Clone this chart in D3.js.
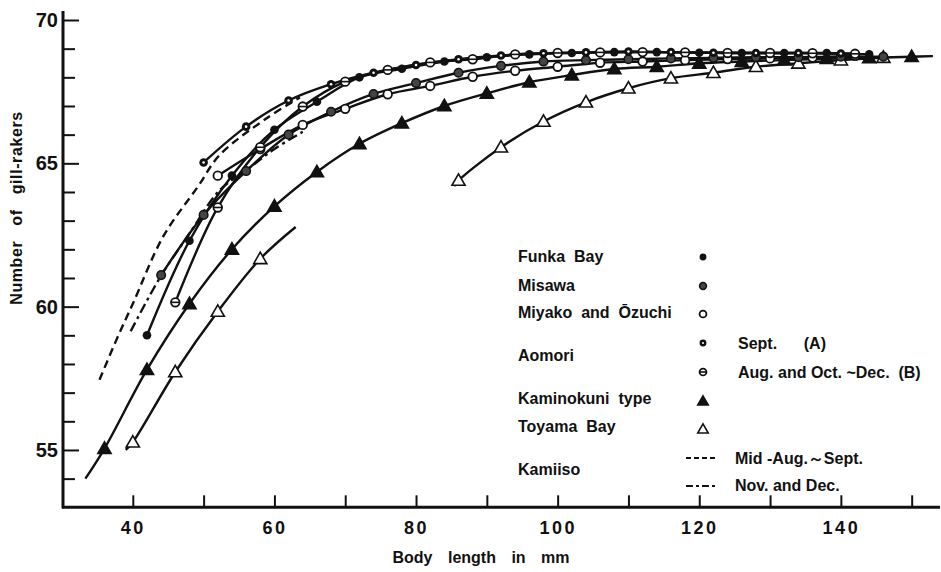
<!DOCTYPE html>
<html><head><meta charset="utf-8">
<script src="https://cdn.jsdelivr.net/npm/d3@7"></script>
<style>body{margin:0;background:#fff}text{font-family:"Liberation Sans",Arial,sans-serif;font-weight:bold;fill:#111}</style>
</head><body>
<svg id="c" width="941" height="572"></svg>
<script>
// ---- data (body length mm, number of gill-rakers) ----
const funkaBay = [[42,59.0],[48,62.3],[54,64.57],[60,66.17],[66,67.15],[72,68.0],[78,68.3],[84,68.55],[90,68.7],[96,68.8],[102,68.85],[108,68.88],[114,68.88],[120,68.86],[126,68.85],[132,68.85],[138,68.85],[144,68.8]];
const misawa = [[44,61.1],[50,63.2],[56,64.73],[62,66.0],[68,66.8],[74,67.42],[80,67.8],[86,68.16],[92,68.4],[98,68.55],[104,68.6],[110,68.63],[116,68.66],[122,68.68],[128,68.7],[134,68.7],[140,68.72],[146,68.72]];
const miyako = [[52,64.57],[58,65.5],[64,66.34],[70,66.9],[76,67.41],[82,67.7],[88,68.02],[94,68.23],[100,68.37],[106,68.51],[112,68.55],[118,68.6],[124,68.64],[130,68.66],[136,68.69],[142,68.75]];
const aomoriA = [[50,65.03],[56,66.28],[62,67.19],[68,67.76],[74,68.16],[80,68.43],[86,68.63],[92,68.76],[98,68.84],[104,68.87],[110,68.9],[116,68.88],[122,68.86],[128,68.85],[134,68.85],[140,68.83]];
const aomoriB = [[46,60.15],[52,63.46],[58,65.56],[64,66.98],[70,67.85],[76,68.26],[82,68.52],[88,68.63],[94,68.8],[100,68.85],[106,68.87],[112,68.88],[118,68.87],[124,68.85],[130,68.85],[136,68.84],[142,68.82]];
const kaminokuni = [[36,55.05],[42,57.8],[48,60.1],[54,62.0],[60,63.5],[66,64.7],[72,65.68],[78,66.4],[84,67.0],[90,67.44],[96,67.83],[102,68.08],[108,68.29],[114,68.37],[120,68.49],[126,68.55],[132,68.6],[138,68.65],[144,68.68],[150,68.72]];
const kaminokuniEnds = [[33.3,54.0],[153,68.74]];
const toyamaEarly = [[40,55.27],[46,57.72],[52,59.83],[58,61.67]];
const toyamaEarlyEnds = [[39,55.0],[63,62.78]];
const toyamaLate = [[86,64.4],[92,65.56],[98,66.46],[104,67.13],[110,67.62],[116,67.97],[122,68.16],[128,68.37],[134,68.49],[140,68.6],[146,68.69]];
const toyamaLateEnds = [[85.4,64.2]];
const kamiisoSummer = [[35.3,57.45],[37.7,58.85],[40,60.1],[44.3,62.45],[49.2,64.19],[52.3,65.3],[58.9,66.57],[63.6,67.3]];
const kamiisoWinter = [[39.7,59.14],[43.8,61.0],[48,62.55],[52.3,64.07],[56.1,64.77],[60,65.5],[64,66.1]];
const xTickLabels = [40,60,80,100,120,140];
const xTicksAll = [40,50,60,70,80,90,100,110,120,130,140,150];
const yTickLabels = [55,60,65,70];
const yTicksAll = [54,55,56,57,58,59,60,61,62,63,64,65,66,67,68,69,70];
const legendNames = ["Funka  Bay","Misawa","Miyako  and  Ōzuchi","Aomori","Kaminokuni  type","Toyama  Bay","Kamiiso"];
const aomoriSub = ["Sept.      (A)","Aug. and Oct. ~Dec.  (B)"];
const kamiisoSub = ["Mid -Aug.～Sept.","Nov. and Dec."];

// ---- scales ----
const svg = d3.select('#c');
const x = d3.scaleLinear().domain([30,154]).range([62,940]);
const y = d3.scaleLinear().domain([53,70]).range([507.3,20]);
const ink = '#111';

// axes
const gx = svg.append('g').attr('transform',`translate(0,${y(53)})`);
gx.call(d3.axisBottom(x).tickValues(xTicksAll).tickSize(-12).tickPadding(14)
  .tickFormat(d => xTickLabels.includes(d) ? d : ''));
gx.select('.domain').remove();
gx.append('line').attr('x1',x(30)).attr('x2',940).attr('stroke',ink).attr('stroke-width',3);
gx.selectAll('.tick line').attr('stroke',ink).attr('stroke-width',2);
gx.selectAll('.tick text').attr('font-size',18).attr('letter-spacing',2.5).style('fill',ink);

const gy = svg.append('g').attr('transform',`translate(${x(30)+1},0)`);
gy.call(d3.axisLeft(y).tickValues(yTicksAll).tickSize(-12).tickPadding(5)
  .tickFormat(d => yTickLabels.includes(d) ? d : ''));
gy.select('.domain').remove();
gy.append('line').attr('y1',11).attr('y2',y(53)+1).attr('stroke',ink).attr('stroke-width',3);
gy.selectAll('.tick line').attr('stroke',ink).attr('stroke-width',2)
  .attr('x2', d => yTickLabels.includes(d) ? 16 : 12);
gy.selectAll('.tick text').attr('font-size',20).style('fill',ink);

svg.append('text').attr('x',481).attr('y',563).attr('text-anchor','middle')
  .attr('font-size',16).attr('word-spacing',11).text('Body length in mm');
svg.append('text').attr('transform','translate(22,208) rotate(-90)').attr('text-anchor','middle')
  .attr('font-size',16).attr('word-spacing',10).attr('letter-spacing',0.6).text('Number of gill-rakers');

// lines
const line = d3.line().x(d=>x(d[0])).y(d=>y(d[1])).curve(d3.curveCatmullRom.alpha(0.5));
const sortX = a => a.slice().sort((p,q)=>p[0]-q[0]);
const lines = [
  {d: sortX(kaminokuni.concat(kaminokuniEnds)), dash:null},
  {d: sortX(toyamaEarly.concat(toyamaEarlyEnds)), dash:null},
  {d: sortX(toyamaLate.concat(toyamaLateEnds)), dash:null},
  {d: funkaBay, dash:null},
  {d: misawa, dash:null},
  {d: miyako, dash:null},
  {d: aomoriA, dash:null},
  {d: aomoriB, dash:null},
  {d: kamiisoSummer, dash:'8,5'},
  {d: kamiisoWinter, dash:'10,4,3,4'}
];
svg.append('g').selectAll('path').data(lines).join('path')
  .attr('d', l => line(l.d)).attr('fill','none').attr('stroke',ink)
  .attr('stroke-width',2.4).attr('stroke-dasharray', l => l.dash);

// markers
function marker(g, type, cx, cy, s) {
  const r = 4.3*s;
  if (type==='filled') g.append('circle').attr('cx',cx).attr('cy',cy).attr('r',r).attr('fill',ink);
  else if (type==='misawa') g.append('circle').attr('cx',cx).attr('cy',cy).attr('r',r).attr('fill','#444').attr('stroke',ink).attr('stroke-width',1.5);
  else if (type==='open') g.append('circle').attr('cx',cx).attr('cy',cy).attr('r',r).attr('fill','#fff').attr('stroke',ink).attr('stroke-width',1.8);
  else if (type==='aomoriA') {
    g.append('circle').attr('cx',cx).attr('cy',cy).attr('r',r).attr('fill',ink);
    g.append('circle').attr('cx',cx).attr('cy',cy).attr('r',1.3*s).attr('fill','#fff');
  } else if (type==='aomoriB') {
    g.append('circle').attr('cx',cx).attr('cy',cy).attr('r',r).attr('fill','#fff').attr('stroke',ink).attr('stroke-width',1.8);
    g.append('line').attr('x1',cx-r).attr('x2',cx+r).attr('y1',cy).attr('y2',cy).attr('stroke',ink).attr('stroke-width',1.6);
  } else if (type==='triFilled' || type==='triOpen') {
    g.append('path').attr('transform',`translate(${cx},${cy+1})`)
      .attr('d', d3.symbol(d3.symbolTriangle, 75*s*s)())
      .attr('fill', type==='triFilled'?ink:'#fff').attr('stroke',ink).attr('stroke-width',1.6);
  }
}
const markerSets = [
  [kaminokuni,'triFilled'],[toyamaEarly,'triOpen'],[toyamaLate,'triOpen'],
  [miyako,'open'],[misawa,'misawa'],[aomoriB,'aomoriB'],[funkaBay,'filled'],[aomoriA,'aomoriA']
];
const gm = svg.append('g');
markerSets.forEach(([pts,t]) => pts.forEach(p => marker(gm,t,x(p[0]),y(p[1]),1)));

// legend
const lg = svg.append('g');
const lx = 518, mx = 703, sx = 738;
const rowY = [262,291,318,361,404,432,475];
const fs = 16;
legendNames.forEach((n,i)=> lg.append('text').attr('x',lx).attr('y',rowY[i]).attr('font-size',fs).attr('xml:space','preserve').text(n));
const legMarks = [['filled',257],['misawa',286],['open',314],['aomoriA',343],['aomoriB',372],['triFilled',401],['triOpen',429]];
legMarks.forEach(([t,yy]) => marker(lg,t,mx,yy,0.8));
lg.append('text').attr('x',sx).attr('y',349).attr('font-size',fs).attr('xml:space','preserve').text(aomoriSub[0]);
lg.append('text').attr('x',sx).attr('y',378).attr('font-size',fs).attr('xml:space','preserve').text(aomoriSub[1]);
lg.append('line').attr('x1',686).attr('x2',715).attr('y1',458).attr('y2',458).attr('stroke',ink).attr('stroke-width',2).attr('stroke-dasharray','5,3');
lg.append('line').attr('x1',686).attr('x2',715).attr('y1',486).attr('y2',486).attr('stroke',ink).attr('stroke-width',2).attr('stroke-dasharray','7,3,3,3');
lg.append('text').attr('x',735).attr('y',464).attr('font-size',fs).attr('xml:space','preserve').text(kamiisoSub[0]);
lg.append('text').attr('x',735).attr('y',491).attr('font-size',fs).attr('xml:space','preserve').text(kamiisoSub[1]);
</script>
</body></html>
